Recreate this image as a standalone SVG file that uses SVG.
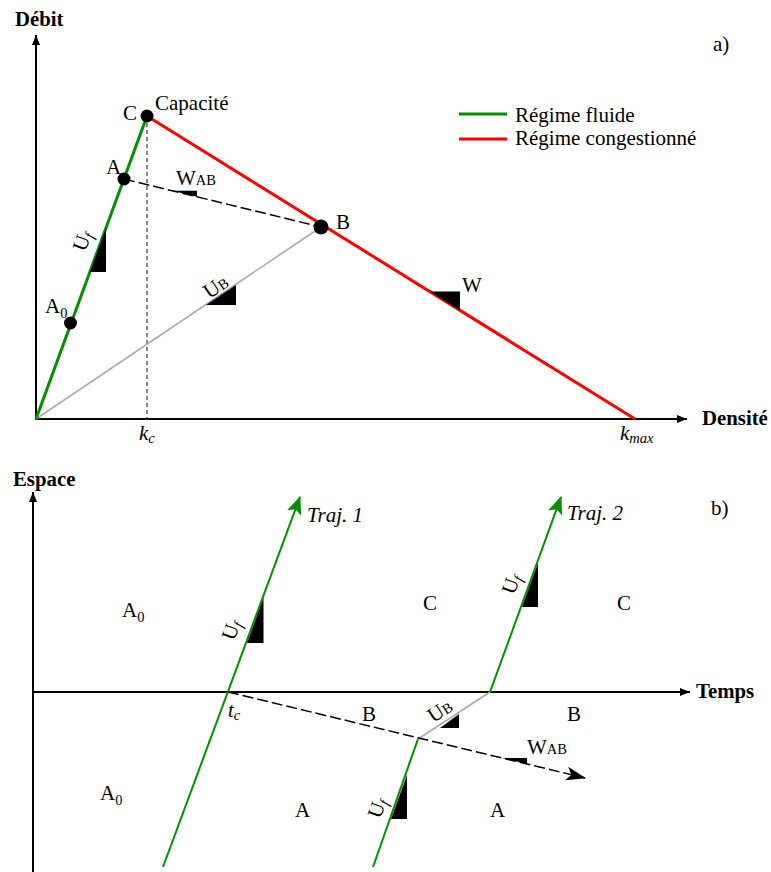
<svg xmlns="http://www.w3.org/2000/svg" width="771" height="872" viewBox="0 0 771 872" font-family="'Liberation Serif', 'DejaVu Serif', serif">
<style>
text{font-family:'Liberation Serif','DejaVu Serif',serif;font-size:21px;fill:#000}
.b{font-weight:bold;font-size:20.8px}
.i{font-style:italic}
.s{font-size:14.5px}
.axis{stroke:#000;stroke-width:2;fill:none}
.green{stroke:#009000;stroke-width:3;fill:none}
.traj{stroke:#009000;stroke-width:2;fill:none}
.red{stroke:#ff0000;stroke-width:3;fill:none}
.gray{stroke:#aaaaaa;stroke-width:1.6;fill:none}
.dash{stroke:#000;stroke-width:1.5;stroke-dasharray:11 4;fill:none}
.vdash{stroke:#444;stroke-width:1.3;stroke-dasharray:4 3;fill:none}
.tri{fill:#000}
.pt{fill:#000}
</style>
<defs>
<marker id="ax" viewBox="0 0 10 8" refX="10" refY="4" markerWidth="10" markerHeight="8" markerUnits="userSpaceOnUse" orient="auto">
<path d="M0,0 L10,4 L0,8 z" fill="#000"/>
</marker>
<marker id="ga" viewBox="0 0 18 15" refX="17" refY="7.5" markerWidth="18" markerHeight="15" markerUnits="userSpaceOnUse" orient="auto">
<path d="M0,0 L18,7.5 L0,15 L4,7.5 z" fill="#009000"/>
</marker>
<marker id="ka" viewBox="0 0 20 14" refX="19" refY="7" markerWidth="20" markerHeight="14" markerUnits="userSpaceOnUse" orient="auto">
<path d="M0,0 L20,7 L0,14 L5,7 z" fill="#000"/>
</marker>
</defs>

<g id="connectors">
<line class="axis" x1="36" y1="420" x2="36" y2="35" marker-end="url(#ax)"/>
<line class="axis" x1="35" y1="419" x2="687" y2="419" marker-end="url(#ax)"/>
<line class="vdash" x1="147" y1="116" x2="147" y2="418"/>
<line class="gray" x1="36" y1="419" x2="321" y2="227"/>
<line class="dash" x1="124" y1="179" x2="321" y2="227"/>
<line class="green" x1="36" y1="419" x2="147" y2="116"/>
<line class="red" x1="147" y1="116" x2="635" y2="419"/>
<line class="green" x1="459" y1="114" x2="507" y2="114"/>
<line class="red" x1="459" y1="139" x2="507" y2="139"/>
<line class="axis" x1="33" y1="872" x2="33" y2="492" marker-end="url(#ax)"/>
<line class="axis" x1="32" y1="692" x2="690" y2="692" marker-end="url(#ax)"/>
<line class="traj" x1="163" y1="867" x2="300" y2="497" marker-end="url(#ga)"/>
<line class="traj" x1="373" y1="867" x2="418" y2="739"/>
<line class="gray" x1="418" y1="739" x2="490" y2="692"/>
<line class="traj" x1="490" y1="692" x2="561" y2="497" marker-end="url(#ga)"/>
<line class="dash" x1="228" y1="692" x2="585" y2="778" marker-end="url(#ka)"/>
</g>

<g id="slopes">
<polygon class="tri" points="90,272 106,228 106,272"/>
<polygon class="tri" points="206,305 236,285 236,305"/>
<polygon class="tri" points="172,190.7 197,190.7 197,196.8"/>
<polygon class="tri" points="430,291.5 460,291.5 460,310.5"/>
<polygon class="tri" points="247,643 263.5,598 263.5,643"/>
<polygon class="tri" points="522,607 538,563 538,607"/>
<polygon class="tri" points="391,819 407,775 407,819"/>
<polygon class="tri" points="440,728 459,714 459,728"/>
<polygon class="tri" points="502,758 527,758 527,764"/>
</g>

<g id="point-C"><circle class="pt" cx="147" cy="116" r="6.5"/><text x="123" y="120">C</text><text x="155" y="110">Capacité</text></g>
<g id="point-A"><circle class="pt" cx="124" cy="179" r="6.5"/><text x="106" y="174">A</text></g>
<g id="point-A0"><circle class="pt" cx="70.5" cy="323" r="6.5"/><text x="45" y="313">A<tspan class="s" dy="5">0</tspan></text></g>
<g id="point-B"><circle class="pt" cx="321" cy="227" r="7.5"/><text x="336" y="229">B</text></g>

<g id="labels-top">
<text class="b" x="15" y="26">Débit</text>
<text class="b" x="702" y="425">Densité</text>
<text x="713" y="51">a)</text>
<text x="176" y="185">W<tspan class="s">AB</tspan></text>
<text x="462" y="292">W</text>
<text class="i" x="139" y="440">k<tspan class="s" dy="3">c</tspan></text>
<text class="i" x="620" y="440">k<tspan class="s" dy="3">max</tspan></text>
<text x="515" y="122">Régime fluide</text>
<text x="515" y="145">Régime congestionné</text>
<text transform="translate(88.6,243.4) rotate(-70)" text-anchor="middle">U<tspan class="s i" dy="3">f</tspan></text>
<text transform="translate(219.6,292.4) rotate(-34)" text-anchor="middle">U<tspan class="s">B</tspan></text>
</g>

<g id="labels-bottom">
<text class="b" x="13" y="486">Espace</text>
<text class="b" x="696" y="698">Temps</text>
<text x="711" y="515">b)</text>
<text class="i" x="307" y="522">Traj. 1</text>
<text class="i" x="567" y="520">Traj. 2</text>
<text x="122" y="617">A<tspan class="s" dy="5">0</tspan></text>
<text x="100" y="800">A<tspan class="s" dy="5">0</tspan></text>
<text x="423" y="610">C</text>
<text x="617" y="610">C</text>
<text class="i" x="228" y="717">t<tspan class="s" dy="3">c</tspan></text>
<text x="362" y="721">B</text>
<text x="567" y="721">B</text>
<text x="295" y="817">A</text>
<text x="490" y="817">A</text>
<text x="527" y="754">W<tspan class="s">AB</tspan></text>
<text transform="translate(237.6,632.4) rotate(-70)" text-anchor="middle">U<tspan class="s i" dy="3">f</tspan></text>
<text transform="translate(517.6,586.4) rotate(-70)" text-anchor="middle">U<tspan class="s i" dy="3">f</tspan></text>
<text transform="translate(383.6,810.4) rotate(-70)" text-anchor="middle">U<tspan class="s i" dy="3">f</tspan></text>
<text transform="translate(443.6,716.4) rotate(-33)" text-anchor="middle">U<tspan class="s">B</tspan></text>
</g>
</svg>
